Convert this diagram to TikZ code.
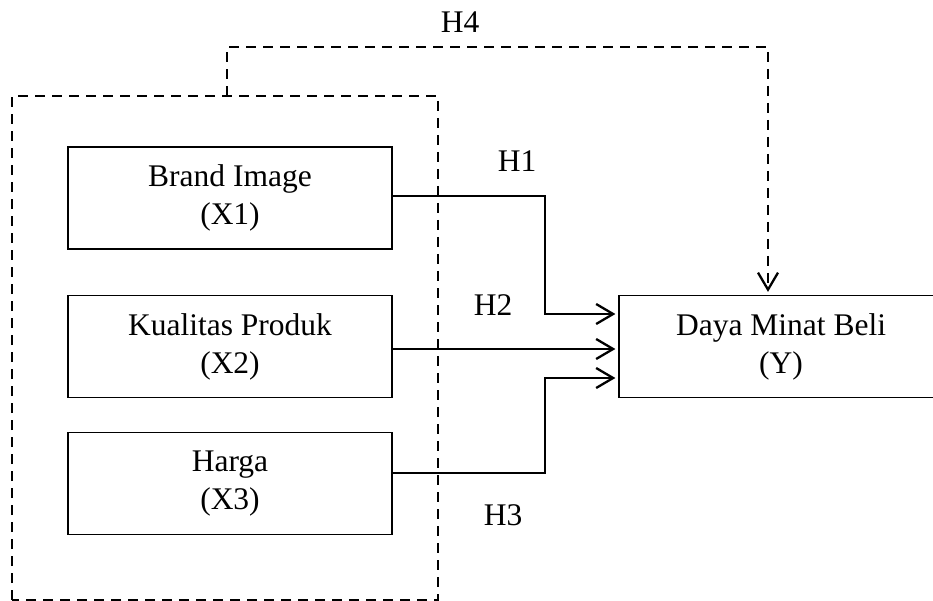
\documentclass[tikz,border=0pt]{standalone}
\usepackage{fontspec}
\setmainfont{Liberation Serif}
\usetikzlibrary{arrows.meta}
\begin{document}
\begin{tikzpicture}[x=1pt,y=-1pt,
  varbox/.style={draw,line width=1.2pt,minimum width=324pt,minimum height=102pt,inner sep=0pt,align=center,font=\fontsize{31.5}{38}\selectfont},
  lbl/.style={font=\fontsize{31.5}{38}\selectfont,inner sep=0pt},
  path/.style={line width=2.3pt},
  dpath/.style={line width=2.6pt,dash pattern=on 10pt off 7pt},
  tip/.style={-{Straight Barb[length=17pt,width=20pt,line width=2.3pt]},shorten >=3pt}]
\useasboundingbox (0,0) rectangle (933,601);
\node[varbox] (x1) at (230,198) {Brand Image\\(X1)};
\node[varbox] (x2) at (230,346.5) {Kualitas Produk\\(X2)};
\node[varbox] (x3) at (230,483.5) {Harga\\(X3)};
\node[varbox] (y) at (781,346.5) {Daya Minat Beli\\(Y)};
\coordinate (bl) at (12,600);
\coordinate (tr) at (438,96);
\draw[dpath] (bl) rectangle (tr);
\coordinate (h4s) at (227,96);
\draw[dpath,tip] (h4s) -- (227,47) -| ([xshift=-13pt]y.north);
\draw[path,tip] (x1.east |- 0,196) -| (545,314) -- (y.west |- 0,314);
\draw[path,tip] (x2.east |- 0,349) -- (y.west |- 0,349);
\draw[path,tip] (x3.east |- 0,473) -| (545,378) -- (y.west |- 0,378);
\node[lbl] (h4) at (460,22) {H4};
\node[lbl] (h1) at (517,161) {H1};
\node[lbl] (h2) at (493,305) {H2};
\node[lbl] (h3) at (503,515) {H3};
\end{tikzpicture}
\end{document}
